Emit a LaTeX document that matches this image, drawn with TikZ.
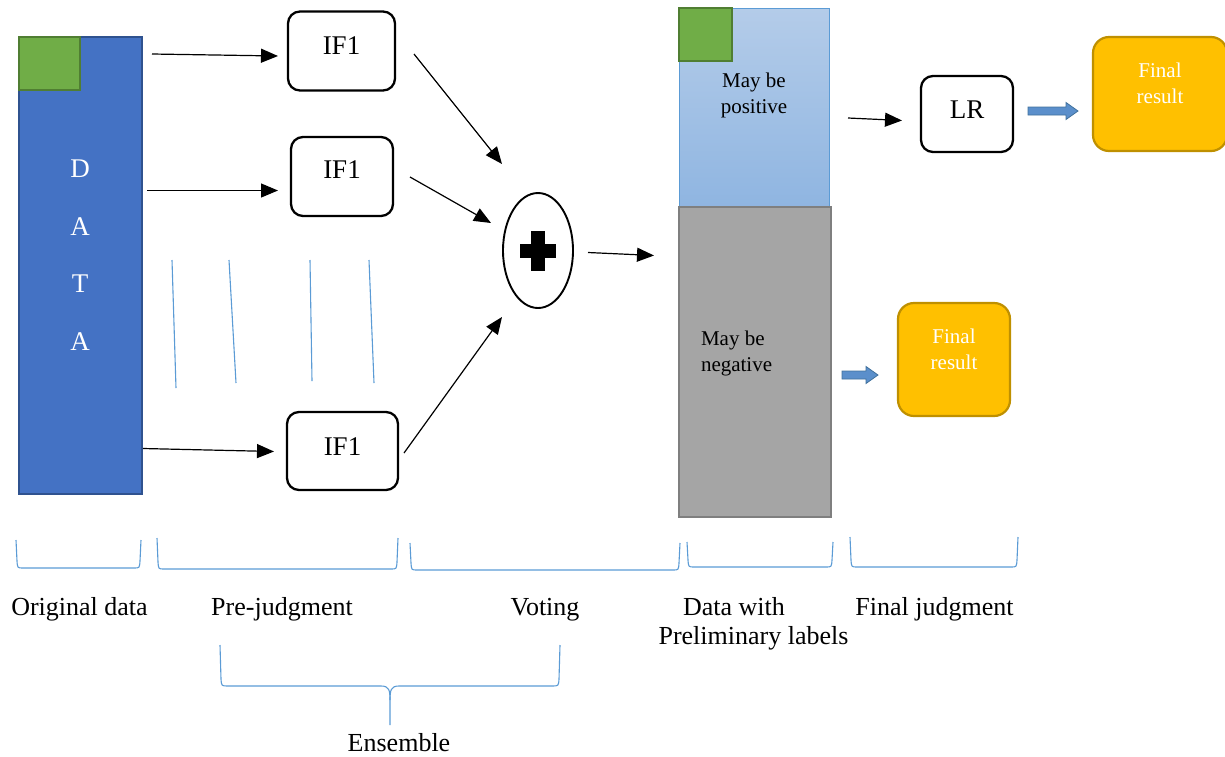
\documentclass[tikz,border=0pt]{standalone}
\usepackage{fontspec}
\setmainfont{Liberation Serif}
\usetikzlibrary{arrows.meta,calc,shapes.geometric}
\definecolor{databl}{HTML}{4472C4}
\definecolor{databd}{HTML}{2F528F}
\definecolor{grn}{HTML}{70AD47}
\definecolor{grnd}{HTML}{507E32}
\definecolor{lbtop}{HTML}{B4CCE9}
\definecolor{lbbot}{HTML}{8FB5E1}
\definecolor{linebl}{HTML}{5B9BD5}
\definecolor{gry}{HTML}{A5A5A5}
\definecolor{gryd}{HTML}{7F7F7F}
\definecolor{gold}{HTML}{FFC000}
\definecolor{goldd}{HTML}{BF9000}
\definecolor{arrbl}{HTML}{5B8FCB}
\definecolor{arrbld}{HTML}{41719C}
\newcommand{\mybrk}[4]{\draw[bluel] (#1,#3) -- (#1+1,#4-7) .. controls (#1+1.5,#4) .. (#1+7,#4) -- (#2-7,#4) .. controls (#2-1.5,#4) .. (#2-1,#4-7) -- (#2,#3);}
\begin{document}
\begin{tikzpicture}[x=1pt,y=-1pt,
  box/.style={draw=black, line width=2.3pt, rounded corners=12pt, fill=white, inner sep=0pt, font=\fontsize{27}{31}\selectfont},
  arr/.style={line width=1.2pt, -{Triangle[length=17pt,width=14pt]}},
  bluel/.style={draw=linebl, line width=1.1pt},
  lbl/.style={font=\fontsize{26}{31}\selectfont, inner sep=0pt, anchor=base},
  final/.style={draw=goldd, fill=gold, line width=2.2pt, rounded corners=16pt, inner sep=0pt, text=white, font=\fontsize{21}{26}\selectfont},
  blk/.style={fill=arrbl, draw=arrbld, line width=0.8pt},
  dletter/.style={inner sep=0pt, text=white, font=\fontsize{27}{31}\selectfont}
]
\useasboundingbox (0,0) rectangle (1225,756);

% Original data column
\node[draw=databd, fill=databl, line width=2pt, minimum width=123pt, minimum height=457pt, inner sep=0pt] (data) at (80.5,265.5) {};
\node[draw=grnd, fill=grn, line width=2pt, minimum width=61pt, minimum height=53pt, inner sep=0pt] (g1) at (49.5,63.5) {};
\node[dletter] (ld1) at (80,169) {D};
\node[dletter] (ld2) at (80,227) {A};
\node[dletter] (ld3) at (80,284) {T};
\node[dletter] (ld4) at (80,342) {A};

% IF1 boxes
\node[box, minimum width=107pt, minimum height=79pt, text height=42.6pt, text depth=36.4pt] (if1) at (341.5,51) {IF1};
\node[box, minimum width=102pt, minimum height=79pt, text height=41.6pt, text depth=37.4pt] (if2) at (342,176.5) {IF1};
\node[box, minimum width=111pt, minimum height=78pt, text height=43.6pt, text depth=34.4pt] (if3) at (342.5,451) {IF1};

% thin blue lines
\draw[bluel] (172,260) coordinate (v1a) -- (176,388) coordinate (v1b);
\draw[bluel] (229,260) coordinate (v2a) -- (236,383) coordinate (v2b);
\draw[bluel] (310,260) coordinate (v3a) -- (312,381) coordinate (v3b);
\draw[bluel] (369,260) coordinate (v4a) -- (374,383) coordinate (v4b);

% voting ellipse
\node[draw, ellipse, line width=1.9pt, minimum width=70pt, minimum height=115pt, inner sep=0pt] (vote) at (538,250.5) {};
\fill ($(vote.center)+(-18,-7)$) rectangle ($(vote.center)+(18,7.5)$);
\fill ($(vote.center)+(-7,-19.5)$) rectangle ($(vote.center)+(6.5,20.5)$);

% labelled data column
\node[draw=linebl, line width=1pt, top color=lbtop, bottom color=lbbot, minimum width=150pt, minimum height=199pt, inner sep=0pt, text height=105pt, text depth=94pt, font=\fontsize{21}{26}\selectfont] (pos) at (754,107.5) {\begin{tabular}[b]{@{}c@{}}May be\\positive\end{tabular}};
\node[draw=gryd, fill=gry, line width=2pt, minimum width=152pt, minimum height=310pt, inner sep=0pt, text height=164pt, text depth=146pt, font=\fontsize{21}{26}\selectfont] (neg) at (755,362) {\makebox[108pt][l]{\begin{tabular}[b]{@{}l@{}}May be\\negative\end{tabular}}};
\node[draw=grnd, fill=grn, line width=2pt, minimum width=53pt, minimum height=53pt, inner sep=0pt] (g2) at (705.5,34.5) {};

% LR and final results
\node[box, minimum width=92pt, minimum height=76pt, text height=42.8pt, text depth=33.2pt] (lr) at (967,114) {LR};
\node[final, minimum width=134pt, minimum height=114pt, text height=66.6pt, text depth=47.4pt] (fin1) at (1160,94) {\begin{tabular}[b]{@{}c@{}}Final\\result\end{tabular}};
\node[final, minimum width=112pt, minimum height=113pt, text height=66pt, text depth=47pt] (fin2) at (954,359.5) {\begin{tabular}[b]{@{}c@{}}Final\\result\end{tabular}};

% arrow coordinates
\coordinate (a1s) at (152,54);
\coordinate (a1e) at (278,56);
\coordinate (a2s) at (147,190.5);
\coordinate (a2e) at (278,190.5);
\coordinate (a3s) at (143,448.5);
\coordinate (a3e) at (274,451.5);
\coordinate (b1s) at (414,54);
\coordinate (b1e) at (502,164);
\coordinate (b2s) at (410,177);
\coordinate (b2e) at (491,223);
\coordinate (b3s) at (404,453);
\coordinate (b3e) at (502,317);
\coordinate (cs) at (588,252.5);
\coordinate (ce) at (654,255.5);
\coordinate (ds) at (848,118);
\coordinate (de) at (902,120.5);

\draw[arr] (a1s) -- (a1e);
\draw[arr] (a2s) -- (a2e);
\draw[arr] (a3s) -- (a3e);
\draw[arr] (b1s) -- (b1e);
\draw[arr] (b2s) -- (b2e);
\draw[arr] (b3s) -- (b3e);
\draw[arr] (cs) -- (ce);
\draw[arr] (ds) -- (de);

% block arrows
\coordinate (ba1) at (1028,111);
\coordinate (ba2) at (842,375);
\draw[blk, shift={(ba1)}] (0,-4) -- (38,-4) -- (38,-8.5) -- (50,0) -- (38,8.5) -- (38,4) -- (0,4) -- cycle;
\draw[blk, shift={(ba2)}] (0,-4) -- (24,-4) -- (24,-8.5) -- (36,0) -- (24,8.5) -- (24,4) -- (0,4) -- cycle;

% brackets
\mybrk{16}{141}{540}{568}
\mybrk{157}{398}{538}{569}
\mybrk{410}{680}{543}{570}
\mybrk{687}{833}{542}{567}
\mybrk{850}{1018}{537}{567}

% ensemble brace
\draw[bluel] (220,645) -- (221,679) .. controls (221.5,686) .. (228,686) -- (381,686) .. controls (389,686) and (390,690) .. (390,700) -- (390,725);
\draw[bluel] (560,645) -- (559,679) .. controls (558.5,686) .. (552,686) -- (399,686) .. controls (391,686) and (390,690) .. (390,700);

% labels
\node[lbl] (t1) at (79.5,615.5) {Original data};
\node[lbl] (t2) at (282,615.5) {Pre-judgment};
\node[lbl] (t3) at (545,615.5) {Voting};
\node[lbl] (t4) at (734,615.5) {Data with};
\node[lbl] (t5) at (753.5,644.5) {Preliminary labels};
\node[lbl] (t6) at (934.5,615.5) {Final judgment};
\node[lbl] (t7) at (399,751.5) {Ensemble};
\end{tikzpicture}
\end{document}
